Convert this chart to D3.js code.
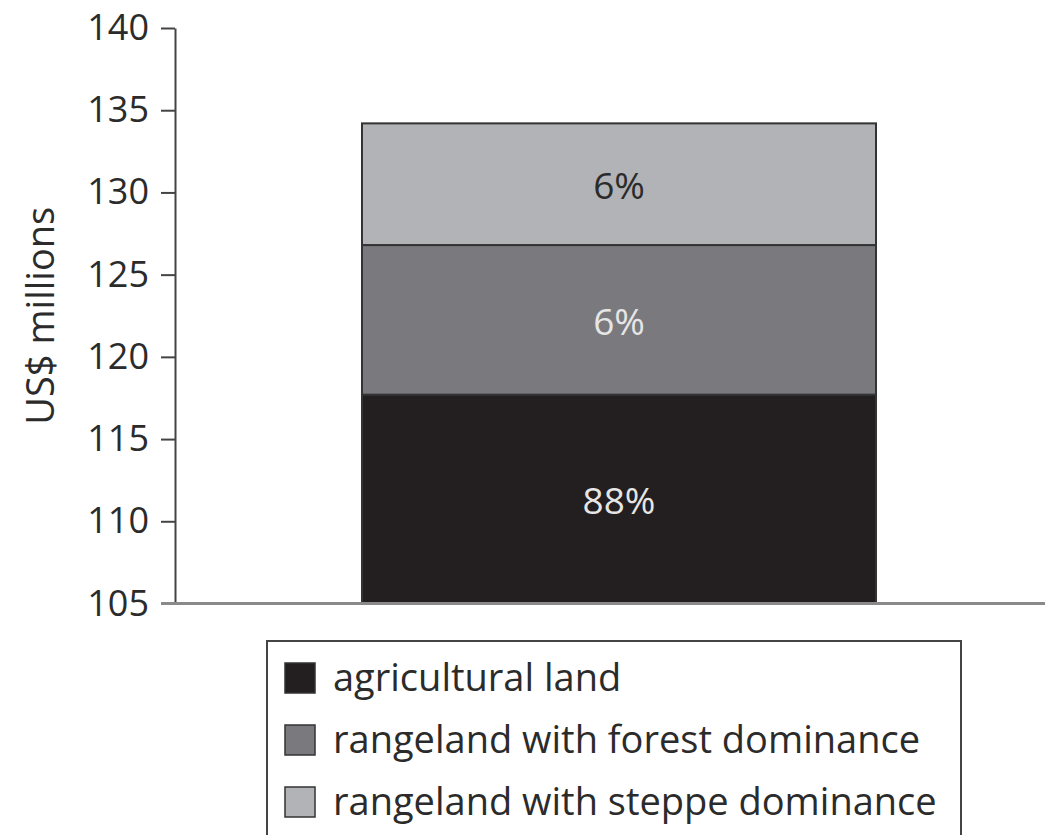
<!DOCTYPE html>
<html>
<head>
<meta charset="utf-8">
<script src="https://cdn.jsdelivr.net/npm/d3@7"></script>
<style>
  body { margin: 0; background: #fff; }
  text { font-family: "Open Sans", "Noto Sans", sans-serif; }
</style>
</head>
<body>
<div id="plot"></div>
<script>
// data
const categories = ["total"];
const seriesKeys = ["agricultural land", "rangeland with forest dominance", "rangeland with steppe dominance"];
const agricultural = [117.7];
const forest = [9.1];
const steppe = [7.4];
const shareLabels = ["88%", "6%", "6%"];
const yTicks = [105, 110, 115, 120, 125, 130, 135, 140];

const colors = ["#231f20", "#7a797e", "#b1b3b6"];
const labelColors = ["#e6e6e6", "#e6e6e6", "#2b2b2b"];

const svgWidth = 1045;
const svgHeight = 835;

const rows = categories.map((c, i) => ({
  cat: c,
  "agricultural land": agricultural[i],
  "rangeland with forest dominance": forest[i],
  "rangeland with steppe dominance": steppe[i],
}));

const svg = d3
  .select("div#plot")
  .append("svg")
  .attr("width", svgWidth)
  .attr("height", svgHeight);

const y = d3.scaleLinear().domain([105, 140]).range([603.5, 28]).clamp(true);
const x = d3.scaleBand().domain(categories).range([362, 876]);

const stacked = d3.stack().keys(seriesKeys)(rows);

// bar segments
const layers = svg
  .selectAll(".layer")
  .data(stacked)
  .enter()
  .append("g")
  .attr("class", "layer");

layers
  .selectAll("rect")
  .data((d, i) => d.map((p) => ({ p, i })))
  .enter()
  .append("rect")
  .attr("x", (d) => x(d.p.data.cat))
  .attr("y", (d) => y(d.p[1]))
  .attr("width", x.bandwidth())
  .attr("height", (d) => y(d.p[0]) - y(d.p[1]))
  .style("fill", (d) => colors[d.i])
  .style("stroke", "#333")
  .style("stroke-width", 2);

// percentage labels, centred in the visible part of each segment
layers
  .selectAll("text")
  .data((d, i) => d.map((p) => ({ p, i })))
  .enter()
  .append("text")
  .attr("x", (d) => x(d.p.data.cat) + x.bandwidth() / 2)
  .attr("y", (d) => (y(d.p[0]) + y(d.p[1])) / 2 + 2)
  .attr("dy", "0.35em")
  .style("text-anchor", "middle")
  .style("font-size", "37px")
  .style("fill", (d) => labelColors[d.i])
  .text((d) => shareLabels[d.i]);

// y axis
const yAxis = svg
  .append("g")
  .attr("transform", "translate(175,0)")
  .call(d3.axisLeft(y).tickValues(yTicks).tickSize(14).tickPadding(12).tickSizeOuter(0));
yAxis.select(".domain").style("stroke", "#444").style("stroke-width", 2);
yAxis.selectAll(".tick line").style("stroke", "#444").style("stroke-width", 2);
yAxis.selectAll(".tick text")
  .style("font-size", "36px")
  .style("fill", "#2b2b2b")
  .style("font-family", "'Open Sans', sans-serif");

// x baseline running to the right edge
svg
  .append("line")
  .attr("x1", 161)
  .attr("x2", svgWidth)
  .attr("y1", y(105))
  .attr("y2", y(105))
  .style("stroke", "#8a8a8a")
  .style("stroke-width", 3);

// y axis title
svg
  .append("text")
  .attr("transform", "translate(54," + (y(105) + y(140)) / 2 + ") rotate(-90)")
  .style("text-anchor", "middle")
  .style("font-size", "38px")
  .style("fill", "#2b2b2b")
  .text("US$ millions");

// legend
const legend = svg.append("g").attr("transform", "translate(267,641)");
legend
  .append("rect")
  .attr("width", 694)
  .attr("height", 220)
  .style("fill", "#fff")
  .style("stroke", "#444")
  .style("stroke-width", 2);

const items = legend
  .selectAll(".item")
  .data(seriesKeys)
  .enter()
  .append("g")
  .attr("class", "item")
  .attr("transform", (d, i) => "translate(18," + (37 + i * 62) + ")");

items
  .append("rect")
  .attr("x", 0)
  .attr("y", -15)
  .attr("width", 30)
  .attr("height", 30)
  .style("fill", (d, i) => colors[i])
  .style("stroke", "#333")
  .style("stroke-width", 1.5);

items
  .append("text")
  .attr("x", 48)
  .attr("dy", "0.35em")
  .style("font-size", "38px")
  .style("fill", "#2b2b2b")
  .text((d) => d);
</script>
</body>
</html>
